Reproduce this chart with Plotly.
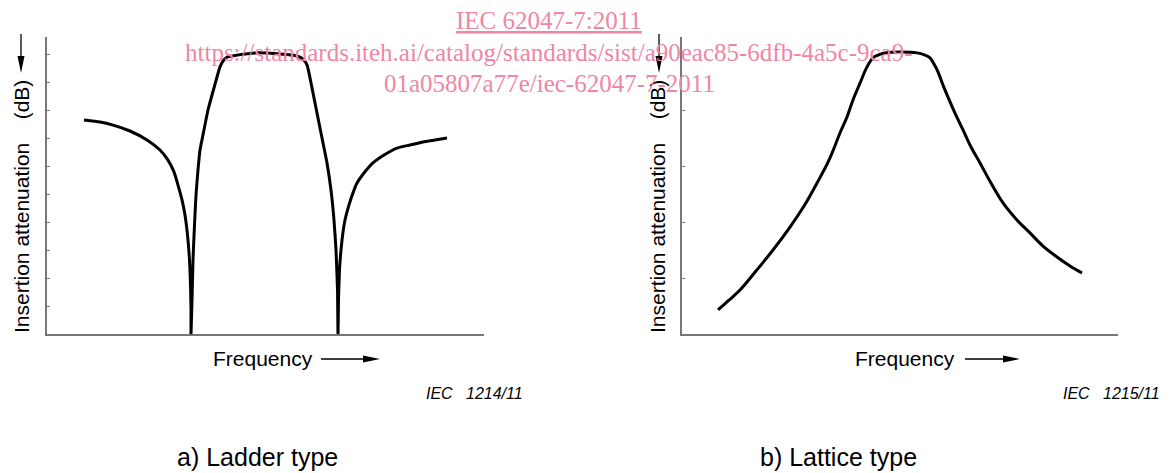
import plotly.graph_objects as go

W, H = 1175, 473

# ---- data (frequency: arbitrary units, attenuation: arbitrary units) ----
ladder_freq = [3.7, 5.3, 6.6, 8.3, 10.0, 11.3, 12.1, 12.7, 13.1, 13.5, 13.8, 14.05, 14.25, 14.35, 14.4, 14.4,
               14.5, 14.6, 14.75, 14.9, 15.1, 15.3, 15.6, 16.1, 16.7, 17.3, 17.6, 18.0, 19.0, 21.0, 23.3,
               25.0, 25.6, 26.0, 26.5, 27.0, 27.5, 28.0, 28.4, 28.7, 28.9, 29.05, 29.1,
               29.15, 29.25, 29.4, 29.6, 29.8, 30.2, 30.6, 31.0, 31.7, 32.6, 33.7, 35.0, 36.3, 37.6, 38.8, 40.0]
ladder_att = [7.64, 7.57, 7.46, 7.25, 6.93, 6.57, 6.21, 5.79, 5.32, 4.79, 4.25, 3.54, 2.64, 1.75, 0.86, 0.0,
              1.21, 2.64, 3.89, 4.96, 5.86, 6.57, 7.11, 8.0, 8.79, 9.54, 9.75, 9.89, 9.96, 10.04, 10.0,
              9.93, 9.82, 9.61, 8.79, 7.89, 7.0, 6.11, 5.14, 4.07, 3.0, 1.57, 0.0,
              1.21, 2.29, 3.0, 3.64, 4.07, 4.61, 5.04, 5.39, 5.75, 6.11, 6.39, 6.64, 6.75, 6.86, 6.93, 7.0]

lattice_freq = [3.6, 4.7, 5.8, 7.4, 9.1, 10.8, 12.2, 13.5, 14.7, 15.8, 16.5, 17.1, 17.8, 18.5, 19.1, 19.6,
                20.3, 23.5, 24.3, 24.8, 25.2, 25.6, 26.1, 26.6, 27.3, 28.1, 28.9, 29.8, 30.9, 32.1, 33.4,
                34.8, 36.1, 37.5, 38.8, 40.0]
lattice_att = [0.86, 1.21, 1.57, 2.25, 3.0, 3.82, 4.57, 5.39, 6.21, 7.18, 7.75, 8.36, 8.96, 9.54, 9.86, 9.96,
               10.04, 10.04, 9.96, 9.86, 9.64, 9.36, 8.89, 8.46, 7.89, 7.29, 6.68, 6.11, 5.39, 4.68, 4.11,
               3.61, 3.14, 2.75, 2.43, 2.18]

ladder_ticks = [1, 2, 3, 4, 5, 6, 7, 8, 9, 10]
lattice_ticks = [2, 4, 6, 8, 10]

y_title = "Insertion attenuation\u00a0\u00a0\u00a0\u00a0(dB)"
x_title = "Frequency"
captions = ["a) Ladder type", "b) Lattice type"]
iec_refs = ["IEC\u00a0\u00a0\u00a01214/11", "IEC\u00a0\u00a0\u00a01215/11"]
wm_lines = ["<u>IEC 62047-7:2011</u>",
            "https://standards.iteh.ai/catalog/standards/sist/a90eac85-6dfb-4a5c-9ca9-",
            "01a05807a77e/iec-62047-7-2011"]


def px(x):
    return x / W


def py(y):
    return 1 - y / H


fig = go.Figure()
fig.add_trace(go.Scatter(x=ladder_freq, y=ladder_att, mode="lines",
                         line=dict(color="black", width=3, shape="spline", smoothing=0.5),
                         xaxis="x", yaxis="y", showlegend=False, hoverinfo="skip"))
fig.add_trace(go.Scatter(x=lattice_freq, y=lattice_att, mode="lines",
                         line=dict(color="black", width=3, shape="spline", smoothing=1.0),
                         xaxis="x2", yaxis="y2", showlegend=False, hoverinfo="skip"))

axis_common = dict(showgrid=False, zeroline=False, showline=True, linecolor="#777777",
                   linewidth=1.5, showticklabels=False)
ydom = [py(334), py(37)]
fig.update_layout(
    width=W, height=H,
    margin=dict(l=0, r=0, t=0, b=0),
    paper_bgcolor="white", plot_bgcolor="white",
    xaxis=dict(domain=[px(47), px(484)], range=[0, 43.7], ticks="", anchor="y", **axis_common),
    yaxis=dict(domain=ydom, range=[0, 10.607], ticks="inside", ticklen=3, tickcolor="#777777",
               tickvals=ladder_ticks, anchor="x", **axis_common),
    xaxis2=dict(domain=[px(682), px(1118)], range=[0, 43.6], ticks="", anchor="y2", **axis_common),
    yaxis2=dict(domain=ydom, range=[0, 10.607], ticks="inside", ticklen=3, tickcolor="#777777",
                tickvals=lattice_ticks, anchor="x2", **axis_common),
)

sans = "Liberation Sans, Arial, sans-serif"
serif = "Liberation Serif, Times New Roman, serif"
ann = []
shapes = []

# y titles and arrows
for xc, xa in [(21, 21), (657, 659)]:
    ann.append(dict(x=px(xc), y=py(207), xref="paper", yref="paper", text=y_title,
                    textangle=-90, showarrow=False, font=dict(family=sans, size=21, color="black"),
                    xanchor="center", yanchor="middle"))
    shapes.append(dict(type="line", xref="paper", yref="paper", x0=px(xa), x1=px(xa),
                       y0=py(34), y1=py(60), line=dict(color="black", width=1.3)))
    shapes.append(dict(type="path", xref="paper", yref="paper",
                       path=f"M {px(xa-3.5)} {py(56)} L {px(xa+3.5)} {py(56)} L {px(xa)} {py(73)} Z",
                       fillcolor="black", line=dict(width=0)))

# x titles and arrows
for xc, a0, a1 in [(263, 321, 380), (905, 965, 1020)]:
    ann.append(dict(x=px(xc), y=py(358), xref="paper", yref="paper", text=x_title,
                    showarrow=False, font=dict(family=sans, size=21, color="black"),
                    xanchor="center", yanchor="middle"))
    shapes.append(dict(type="line", xref="paper", yref="paper", x0=px(a0), x1=px(a1 - 14),
                       y0=py(359), y1=py(359), line=dict(color="black", width=1.3)))
    shapes.append(dict(type="path", xref="paper", yref="paper",
                       path=f"M {px(a1-17)} {py(355.5)} L {px(a1-17)} {py(362.5)} L {px(a1)} {py(359)} Z",
                       fillcolor="black", line=dict(width=0)))

# IEC refs
for xr, t in zip([525, 1162], iec_refs):
    ann.append(dict(x=px(xr), y=py(393), xref="paper", yref="paper", text=f"<i>{t}</i>",
                    showarrow=False, font=dict(family=sans, size=16, color="black"),
                    xanchor="right", yanchor="middle"))

# captions
for xc, t in zip([257, 838], captions):
    ann.append(dict(x=px(xc), y=py(457), xref="paper", yref="paper", text=t,
                    showarrow=False, font=dict(family=sans, size=25, color="black"),
                    xanchor="center", yanchor="middle"))

# watermark
for yc, t in zip([20, 52, 83], wm_lines):
    ann.append(dict(x=px(549), y=py(yc), xref="paper", yref="paper", text=t,
                    showarrow=False, font=dict(family=serif, size=25, color="#ef86a5"),
                    xanchor="center", yanchor="middle"))

fig.update_layout(annotations=ann, shapes=shapes)
fig.write_html("out.html", config={"displayModeBar": False},
               post_script="document.body.style.margin='0';document.body.style.overflow='hidden';")
